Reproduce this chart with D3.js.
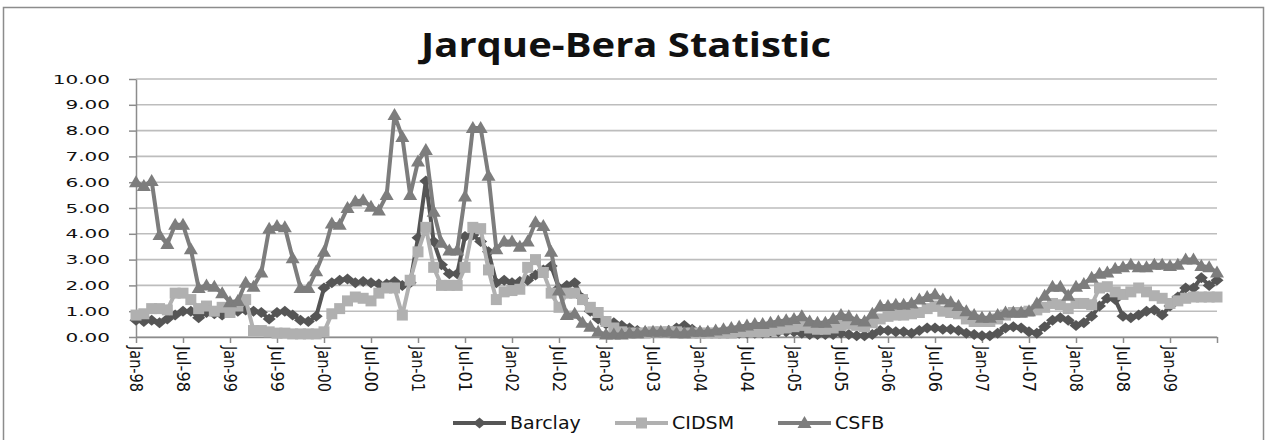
<!DOCTYPE html>
<html>
<head>
<meta charset="utf-8">
<script src="https://cdn.jsdelivr.net/npm/d3@7"></script>
<style>
body { margin: 0; background: #fff; }
text { fill: #111; }
</style>
</head>
<body>
<div id="chart"></div>
<script>
// tick labels, one every 6 months
const tickLabels = ["Jan-98","Jul-98","Jan-99","Jul-99","Jan-00","Jul-00","Jan-01","Jul-01",
  "Jan-02","Jul-02","Jan-03","Jul-03","Jan-04","Jul-04","Jan-05","Jul-05","Jan-06","Jul-06",
  "Jan-07","Jul-07","Jan-08","Jul-08","Jan-09"];
const seriesNames = ["Barclay", "CIDSM", "CSFB"];
const yTicks = [0,1,2,3,4,5,6,7,8,9,10];

// monthly values Jan-98 .. Jul-09
const barclay = [0.65,0.6,0.65,0.55,0.7,0.85,1.0,1.0,0.75,0.95,
  0.9,0.85,0.95,1.0,1.05,1.0,0.95,0.7,0.95,1.0,
  0.85,0.65,0.6,0.8,1.9,2.1,2.2,2.25,2.1,2.15,
  2.1,2.05,2.05,2.15,2.0,2.1,3.85,6.05,3.7,2.8,
  2.45,2.45,3.9,3.95,3.7,3.3,2.1,2.2,2.1,2.15,
  2.2,2.4,2.6,2.75,1.9,2.0,2.1,1.5,1.0,0.7,
  0.5,0.55,0.45,0.35,0.25,0.2,0.2,0.2,0.25,0.35,
  0.45,0.3,0.2,0.2,0.2,0.2,0.2,0.15,0.15,0.15,
  0.15,0.2,0.2,0.2,0.2,0.15,0.1,0.1,0.1,0.1,
  0.15,0.1,0.05,0.05,0.1,0.25,0.25,0.2,0.2,0.15,
  0.25,0.35,0.35,0.3,0.3,0.25,0.15,0.1,0.05,0.05,
  0.15,0.35,0.4,0.35,0.2,0.15,0.4,0.65,0.75,0.65,
  0.45,0.55,0.8,1.2,1.5,1.45,0.8,0.75,0.85,1.0,
  1.05,0.85,1.2,1.55,1.9,1.9,2.3,2.0,2.2];
const cidsm = [0.85,0.9,1.1,1.1,1.05,1.7,1.7,1.45,1.1,1.2,
  1.0,1.15,0.95,1.2,1.45,0.25,0.25,0.2,0.15,0.15,
  0.12,0.12,0.12,0.12,0.2,0.9,1.1,1.4,1.55,1.5,
  1.4,1.7,1.9,1.9,0.85,2.2,3.3,4.25,2.7,2.0,
  2.0,2.0,2.7,4.25,4.2,2.6,1.45,1.75,1.8,1.85,
  2.7,3.0,2.5,1.7,1.15,1.7,1.7,1.45,1.15,0.95,
  0.6,0.35,0.2,0.15,0.15,0.15,0.2,0.2,0.2,0.2,
  0.15,0.15,0.15,0.15,0.15,0.15,0.15,0.2,0.2,0.2,
  0.2,0.25,0.3,0.35,0.4,0.45,0.35,0.3,0.3,0.35,
  0.45,0.5,0.45,0.4,0.55,0.7,0.8,0.85,0.85,0.9,
  0.95,1.1,1.2,1.0,0.95,0.9,0.7,0.6,0.6,0.6,
  0.7,0.85,0.95,0.95,1.0,1.05,1.15,1.3,1.25,1.1,
  1.3,1.3,1.25,1.9,1.95,1.75,1.65,1.75,1.9,1.75,
  1.6,1.5,1.3,1.4,1.5,1.55,1.55,1.55,1.55];
const csfb = [6.0,5.85,6.05,3.95,3.6,4.35,4.35,3.4,1.9,2.0,
  1.95,1.7,1.35,1.4,2.1,1.95,2.5,4.2,4.3,4.25,
  3.05,1.9,1.9,2.55,3.3,4.4,4.35,5.0,5.25,5.3,
  5.05,4.9,5.5,8.6,7.75,5.5,6.8,7.25,4.85,3.65,
  3.35,3.35,5.45,8.1,8.1,6.25,3.4,3.7,3.7,3.5,
  3.7,4.45,4.3,3.3,1.8,0.85,0.9,0.55,0.4,0.2,
  0.1,0.1,0.1,0.15,0.15,0.2,0.2,0.2,0.2,0.15,
  0.15,0.2,0.2,0.2,0.25,0.3,0.35,0.4,0.45,0.5,
  0.5,0.55,0.6,0.65,0.7,0.8,0.6,0.55,0.55,0.7,
  0.85,0.8,0.65,0.6,0.9,1.2,1.2,1.25,1.25,1.3,
  1.45,1.55,1.65,1.45,1.35,1.2,1.0,0.85,0.75,0.75,
  0.85,0.95,0.95,0.95,1.0,1.3,1.6,1.95,1.95,1.6,
  1.95,2.05,2.3,2.45,2.5,2.65,2.7,2.8,2.7,2.7,
  2.8,2.8,2.75,2.8,3.0,3.0,2.75,2.7,2.5];

const width = 1268, height = 440;
const margin = {left: 136, right: 51, top: 79, bottom: 103};
const colors = ["#555555", "#b0b0b0", "#7d7d7d"];
const symbols = [
  "M0,-5.5L6.5,0L0,5.5L-6.5,0Z",   // diamond
  "M-5.5,-5.5L5.5,-5.5L5.5,5.5L-5.5,5.5Z", // square
  "M0,-7L7,5L-7,5Z"                // triangle
];

// stretch text wider, the original picture is stretched horizontally
function stretch(sel, k) {
  sel.each(function() {
    let w = this.getComputedTextLength();
    d3.select(this).attr("textLength", w * k).attr("lengthAdjust", "spacingAndGlyphs");
  });
}

let svg = d3.select("#chart").append("svg")
  .attr("width", width)
  .attr("height", height);

svg.append("rect")
  .attr("x", 3.5).attr("y", 7.5)
  .attr("width", 1260).attr("height", 460)
  .attr("fill", "#fff")
  .attr("stroke", "#8c8c8c")
  .attr("stroke-width", 1.5);

let x = d3.scaleLinear()
  .domain([0, barclay.length - 1])
  .range([margin.left, width - margin.right]);
let y = d3.scaleLinear()
  .domain([0, 10])
  .range([height - margin.bottom, margin.top]);

// gridlines
svg.append("g").selectAll("line").data(yTicks).enter()
  .append("line")
  .attr("x1", margin.left).attr("x2", width - margin.right)
  .attr("y1", d => y(d)).attr("y2", d => y(d))
  .attr("stroke", "#bdbdbd")
  .attr("stroke-width", 1.6);

// y axis
let yAxis = svg.append("g")
  .attr("transform", `translate(${margin.left},0)`)
  .call(d3.axisLeft(y).tickValues(yTicks).tickFormat(d3.format(".2f")).tickSize(7).tickSizeOuter(0).tickPadding(19));
yAxis.selectAll("path, line").attr("stroke", "#8c8c8c").attr("stroke-width", 1.5);
yAxis.selectAll("text")
  .style("font-family", "DejaVu Sans")
  .style("font-size", "12.5px")
  .attr("fill", "#111");
stretch(yAxis.selectAll("text"), 1.6);

// x axis
let xTicks = d3.range(0, barclay.length, 6);
let xAxis = svg.append("g")
  .attr("transform", `translate(0,${y(0)})`)
  .call(d3.axisBottom(x).tickValues(xTicks).tickSize(6).tickSizeOuter(0)
    .tickFormat((d, i) => tickLabels[i] || ""));
xAxis.selectAll("path, line").attr("stroke", "#8c8c8c").attr("stroke-width", 1.5);
xAxis.selectAll("text")
  .attr("transform", "rotate(90)")
  .attr("x", 9).attr("y", 0).attr("dy", "0.36em")
  .style("text-anchor", "start")
  .style("font-family", "DejaVu Sans")
  .style("font-size", "17px")
  .attr("fill", "#111")
  .attr("textLength", 46)
  .attr("lengthAdjust", "spacingAndGlyphs");

// series
let data = [barclay, cidsm, csfb];
let line = d3.line().x((d, i) => x(i)).y(d => y(d));
data.forEach(function(values, s) {
  let g = svg.append("g");
  g.append("path")
    .datum(values)
    .attr("d", line)
    .attr("fill", "none")
    .attr("stroke", colors[s])
    .attr("stroke-width", 4)
    .attr("stroke-linejoin", "round");
  g.selectAll("path.mk").data(values).enter()
    .append("path")
    .attr("class", "mk")
    .attr("d", symbols[s])
    .attr("transform", (d, i) => `translate(${x(i)},${y(d)})`)
    .attr("fill", colors[s]);
});

// title
svg.append("text")
  .attr("x", 626).attr("y", 57)
  .style("text-anchor", "middle")
  .style("font-family", "Open Sans")
  .style("font-weight", "bold")
  .style("font-size", "34px")
  .attr("fill", "#000")
  .attr("textLength", 410)
  .attr("lengthAdjust", "spacingAndGlyphs")
  .text("Jarque-Bera Statistic");

// legend
const legendX = [453, 615, 778];
let legend = svg.append("g");
seriesNames.forEach(function(name, s) {
  let lx = legendX[s], ly = 423;
  legend.append("line")
    .attr("x1", lx).attr("x2", lx + 53)
    .attr("y1", ly).attr("y2", ly)
    .attr("stroke", colors[s]).attr("stroke-width", 4);
  legend.append("path")
    .attr("d", symbols[s])
    .attr("transform", `translate(${lx + 26.5},${ly})`)
    .attr("fill", colors[s]);
  legend.append("text")
    .attr("x", lx + 57).attr("y", ly).attr("dy", "0.36em")
    .style("font-family", "DejaVu Sans")
    .style("font-size", "17px")
    .attr("fill", "#111")
    .text(name);
});
stretch(legend.selectAll("text"), 1.12);
</script>
</body>
</html>
